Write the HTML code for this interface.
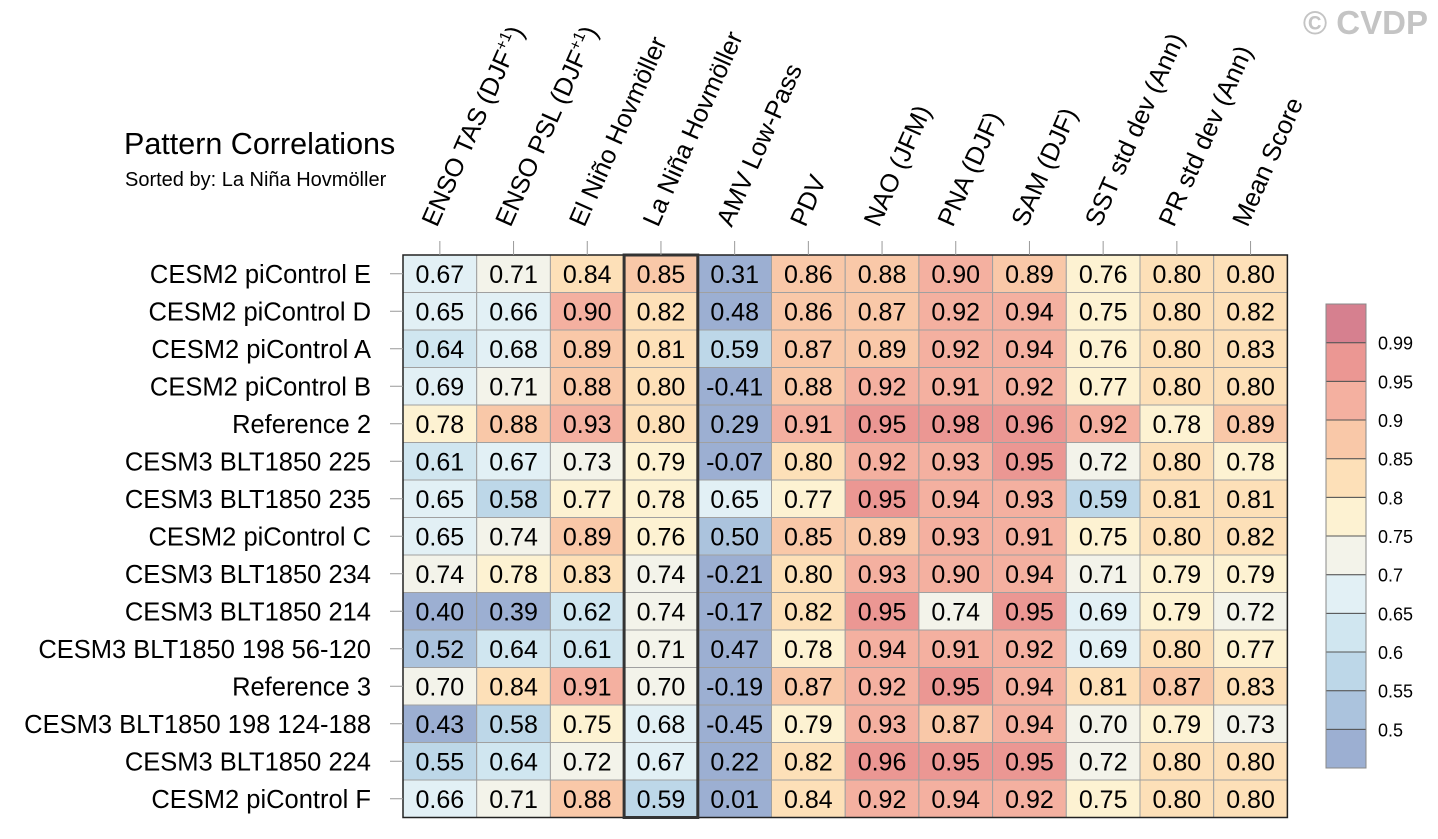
<!DOCTYPE html>
<html><head><meta charset="utf-8">
<style>
html,body{margin:0;padding:0;background:#fff;}
svg{display:block;font-family:"Liberation Sans",Arial,sans-serif;}
</style></head>
<body>
<svg id="chart" width="1438" height="839" viewBox="0 0 1438 839">
<text x="1428" y="34" text-anchor="end" font-size="33" font-weight="bold" fill="#c4c4c4">© CVDP</text>
<text x="124" y="154" font-size="30.5" fill="#000">Pattern Correlations</text>
<text x="125" y="186" font-size="20" fill="#000">Sorted by: La Niña Hovmöller</text>
<g id="cells"></g>
<g id="collabels"></g>
<g id="rowlabels"></g>
<g id="cbar"></g>
</svg>
<script>
const columns = ["ENSO TAS (DJF|+1|)","ENSO PSL (DJF|+1|)","El Niño Hovmöller","La Niña Hovmöller","AMV Low-Pass","PDV","NAO (JFM)","PNA (DJF)","SAM (DJF)","SST std dev (Ann)","PR std dev (Ann)","Mean Score"];
const rows = ["CESM2 piControl E","CESM2 piControl D","CESM2 piControl A","CESM2 piControl B","Reference 2","CESM3 BLT1850 225","CESM3 BLT1850 235","CESM2 piControl C","CESM3 BLT1850 234","CESM3 BLT1850 214","CESM3 BLT1850 198 56-120","Reference 3","CESM3 BLT1850 198 124-188","CESM3 BLT1850 224","CESM2 piControl F"];
const values = [
[0.67,0.71,0.84,0.85,0.31,0.86,0.88,0.90,0.89,0.76,0.80,0.80],
[0.65,0.66,0.90,0.82,0.48,0.86,0.87,0.92,0.94,0.75,0.80,0.82],
[0.64,0.68,0.89,0.81,0.59,0.87,0.89,0.92,0.94,0.76,0.80,0.83],
[0.69,0.71,0.88,0.80,-0.41,0.88,0.92,0.91,0.92,0.77,0.80,0.80],
[0.78,0.88,0.93,0.80,0.29,0.91,0.95,0.98,0.96,0.92,0.78,0.89],
[0.61,0.67,0.73,0.79,-0.07,0.80,0.92,0.93,0.95,0.72,0.80,0.78],
[0.65,0.58,0.77,0.78,0.65,0.77,0.95,0.94,0.93,0.59,0.81,0.81],
[0.65,0.74,0.89,0.76,0.50,0.85,0.89,0.93,0.91,0.75,0.80,0.82],
[0.74,0.78,0.83,0.74,-0.21,0.80,0.93,0.90,0.94,0.71,0.79,0.79],
[0.40,0.39,0.62,0.74,-0.17,0.82,0.95,0.74,0.95,0.69,0.79,0.72],
[0.52,0.64,0.61,0.71,0.47,0.78,0.94,0.91,0.92,0.69,0.80,0.77],
[0.70,0.84,0.91,0.70,-0.19,0.87,0.92,0.95,0.94,0.81,0.87,0.83],
[0.43,0.58,0.75,0.68,-0.45,0.79,0.93,0.87,0.94,0.70,0.79,0.73],
[0.55,0.64,0.72,0.67,0.22,0.82,0.96,0.95,0.95,0.72,0.80,0.80],
[0.66,0.71,0.88,0.59,0.01,0.84,0.92,0.94,0.92,0.75,0.80,0.80]];
const levels = [0.5,0.55,0.6,0.65,0.7,0.75,0.8,0.85,0.9,0.95,0.99];
const levelLabels = ["0.5","0.55","0.6","0.65","0.7","0.75","0.8","0.85","0.9","0.95","0.99"];
const colors = ["#9cafd2","#abc3dd","#bdd7e8","#d0e6f0","#e2f0f5","#f3f3ea","#fdf2d2","#fde0b8","#f9c8a8","#f4b0a0","#eb9793","#d6808f"];
const sortedCol = 3;

const NS="http://www.w3.org/2000/svg";
const X0=403, Y0=255, CW=73.7, RH=37.5;
const xOf=i=>X0+i*CW, yOf=j=>Y0+j*RH;
function mk(tag,attrs,parent){const e=document.createElementNS(NS,tag);for(const k in attrs)e.setAttribute(k,attrs[k]);parent.appendChild(e);return e;}
function colorOf(v){let k=0;while(k<levels.length&&v>=levels[k])k++;return colors[k];}

const gc=document.getElementById('cells');
values.forEach((row,j)=>row.forEach((v,i)=>{
  const r=mk('rect',{x:xOf(i),y:yOf(j),width:CW,height:RH,fill:colorOf(v),stroke:'#a0a0a0','stroke-width':1},gc);
  
  
  const t=mk('text',{x:xOf(i)+CW/2,y:yOf(j)+RH/2+9,'text-anchor':'middle','font-size':25,fill:'#000'},gc);
  
  
  t.textContent=v.toFixed(2);
}));
const ob=mk('rect',{x:X0,y:Y0,width:CW*columns.length,height:RH*rows.length,fill:'none',stroke:'#222','stroke-width':1.5},gc);


const hb=mk('rect',{x:xOf(sortedCol),y:Y0,width:CW,height:RH*rows.length,fill:'none',stroke:'#333','stroke-width':3},gc);



const gl=document.getElementById('collabels');
columns.forEach((c,i)=>{
  const cx=xOf(i)+CW/2;
  const tk=mk('line',{x1:cx,y1:241,x2:cx,y2:Y0,stroke:'#999','stroke-width':1},gl);
  
  
  const t=mk('text',{x:0,y:0,'font-size':25.5,fill:'#000',transform:`translate(${cx-3},228) rotate(-66)`},gl);
  
  
  const parts=c.split('|');
  parts.forEach((p,k)=>{
    const s=mk('tspan',{},t);
    if(k===1){s.setAttribute('font-size',16);s.setAttribute('dy',-10);}
    if(k===2){s.setAttribute('dy',10);}
    s.textContent=p;
  });
});

const gr=document.getElementById('rowlabels');
rows.forEach((r,j)=>{
  const cy=yOf(j)+RH/2;
  const tk=mk('line',{x1:390,y1:cy,x2:X0,y2:cy,stroke:'#999','stroke-width':1},gr);
  
  
  const t=mk('text',{x:371,y:cy+9,'text-anchor':'end','font-size':25.5,fill:'#000'},gr);
  
  
  t.textContent=r;
});

const gb=document.getElementById('cbar');
const CBX=1326, CBY=304, CBW=40, CBH=464, n=colors.length, bh=CBH/n;
colors.forEach((col,k)=>{
  const y=CBY+CBH-(k+1)*bh;
  const r=mk('rect',{x:CBX,y:y,width:CBW,height:bh,fill:col,stroke:'#555','stroke-width':1},gb);
  
  
});
const cbo=mk('rect',{x:CBX,y:CBY,width:CBW,height:CBH,fill:'none',stroke:'#888','stroke-width':1},gb);


levelLabels.forEach((l,k)=>{
  const y=CBY+CBH-(k+1)*bh;
  const t=mk('text',{x:1378,y:y+7,'font-size':18,fill:'#000'},gb);
  
  
  t.textContent=l;
});
</script>
</body></html>
